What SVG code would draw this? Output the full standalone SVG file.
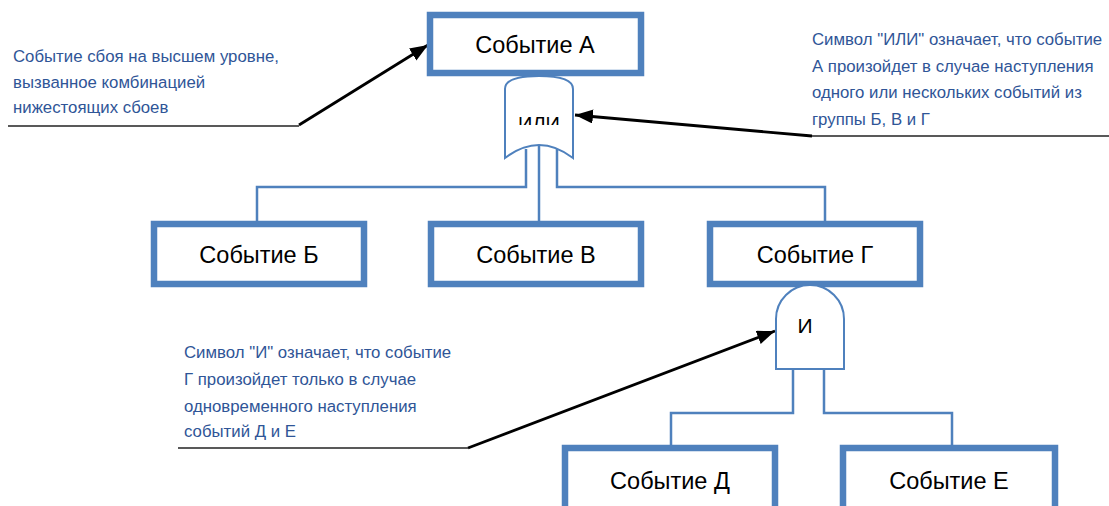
<svg xmlns="http://www.w3.org/2000/svg" width="1109" height="506" viewBox="0 0 1109 506">
<style>
.box{fill:#fff;stroke:#4F81BD;stroke-width:6.5}
.lbl{font-family:"Liberation Sans",Arial,sans-serif;font-size:23.5px;fill:#000;text-anchor:middle}
.gate{fill:#fff;stroke:#4F81BD;stroke-width:2}
.conn{fill:none;stroke:#4F81BD;stroke-width:2.5}
.note{font-family:"Liberation Sans",Arial,sans-serif;font-size:16.8px;fill:#2F5597}
.under{fill:none;stroke:#222;stroke-width:1.5}
.arr{fill:none;stroke:#000;stroke-width:2.8}
</style>
<defs>
<marker id="ah" markerUnits="userSpaceOnUse" markerWidth="20" markerHeight="16" refX="18" refY="7" orient="auto">
<path d="M0,0 L18,7 L0,14 z" fill="#000"/>
</marker>
<clipPath id="orclip"><rect x="500" y="90" width="80" height="35"/></clipPath>
</defs>
<g id="connectors">
<path class="conn" d="M526,149 V187 H257 V221"/>
<path class="conn" d="M539,145 V221"/>
<path class="conn" d="M557,149 V187 H825 V221"/>
<path class="conn" d="M793,369 V413 H671 V445"/>
<path class="conn" d="M824,369 V413 H952 V445"/>
<path class="arr" d="M299,125 L428,45" marker-end="url(#ah)"/>
<path class="arr" d="M812,136 L575,115" marker-end="url(#ah)"/>
<path class="arr" d="M468,448 L775,331" marker-end="url(#ah)"/>
</g>
<g id="node-a"><rect class="box" x="430" y="15" width="211" height="58"/><text class="lbl" x="535" y="53">Событие А</text></g>
<g id="gate-or">
<path class="gate" d="M505,158 V89 C505,79 520,76 539,76 C558,76 573,79 573,89 V158 Q539,132 505,158 z"/>
<text x="539" y="131" clip-path="url(#orclip)" style="font-family:'Liberation Sans',Arial,sans-serif;font-size:20px;text-anchor:middle">ИЛИ</text>
</g>
<g id="node-b"><rect class="box" x="154" y="224" width="210" height="60"/><text class="lbl" x="259" y="263">Событие Б</text></g>
<g id="node-v"><rect class="box" x="431" y="224" width="210" height="60"/><text class="lbl" x="536" y="263">Событие В</text></g>
<g id="node-g"><rect class="box" x="710" y="224" width="210" height="60"/><text class="lbl" x="815" y="263">Событие Г</text></g>
<g id="gate-and">
<path class="gate" d="M776,369 V319 A34,34 0 0 1 844,319 V369 z"/>
<text x="805" y="333" style="font-family:'Liberation Sans',Arial,sans-serif;font-size:21px;text-anchor:middle">И</text>
</g>
<g id="node-d"><rect class="box" x="565" y="448" width="210" height="62"/><text class="lbl" x="670" y="489">Событие Д</text></g>
<g id="node-e"><rect class="box" x="843" y="448" width="212" height="62"/><text class="lbl" x="949" y="489">Событие Е</text></g>
<g id="note-top">
<text class="note" x="13" y="62">Событие сбоя на высшем уровне,</text>
<text class="note" x="13" y="88">вызванное комбинацией</text>
<text class="note" x="13" y="113">нижестоящих сбоев</text>
<path class="under" d="M8,126 H299"/>
</g>
<g id="note-or">
<text class="note" x="812" y="45">Символ "ИЛИ" означает, что событие</text>
<text class="note" x="812" y="72">А произойдет в случае наступления</text>
<text class="note" x="812" y="98">одного или нескольких событий из</text>
<text class="note" x="812" y="125">группы Б, В и Г</text>
<path class="under" d="M812,136 H1109"/>
</g>
<g id="note-and">
<text class="note" x="184" y="358">Символ "И" означает, что событие</text>
<text class="note" x="184" y="385">Г произойдет только в случае</text>
<text class="note" x="184" y="412">одновременного наступления</text>
<text class="note" x="184" y="437">событий Д и Е</text>
<path class="under" d="M178,448 H468"/>
</g>
</svg>
